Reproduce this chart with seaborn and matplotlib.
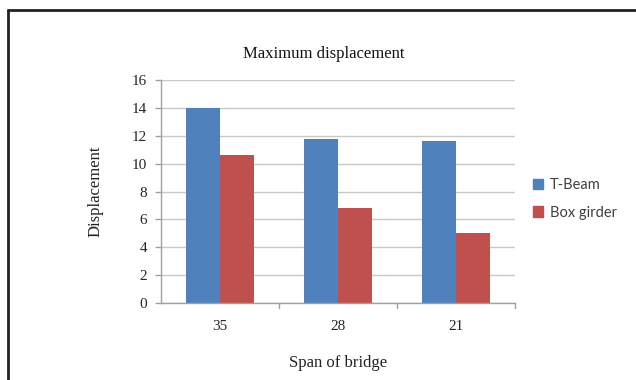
import matplotlib
matplotlib.use("Agg")
import matplotlib.pyplot as plt
import seaborn as sns
import pandas as pd
from matplotlib.lines import Line2D
from matplotlib.patches import Patch

spans = ["35", "28", "21"]
t_beam = [14.0, 11.8, 11.6]
box_girder = [10.6, 6.8, 5.0]
series_names = ["T-Beam", "Box girder"]
colors = ["#4F81BD", "#C0504D"]
y_ticks = [0, 2, 4, 6, 8, 10, 12, 14, 16]

df = pd.DataFrame({
    "span": spans * 2,
    "value": t_beam + box_girder,
    "series": [series_names[0]] * 3 + [series_names[1]] * 3,
})

sns.set_style("white")
serif = ["Liberation Serif", "DejaVu Serif"]

fig = plt.figure(figsize=(6.36, 3.80), dpi=100)
ax = fig.add_axes([0.253, 0.2026, 0.557, 0.5864])

sns.barplot(data=df, x="span", y="value", hue="series", order=spans,
            hue_order=series_names, palette=colors, width=0.57,
            saturation=1, ax=ax, legend=False, linewidth=0)

ax.set_ylim(0, 16)
ax.set_yticks(y_ticks)
ax.set_xlim(-0.5, 2.5)
ax.yaxis.grid(True, color="#C8C8C8", linewidth=1)
ax.set_axisbelow(True)
for s in ["top", "right"]:
    ax.spines[s].set_visible(False)
for s in ["left", "bottom"]:
    ax.spines[s].set_color("#A0A0A0")
    ax.spines[s].set_linewidth(1)

ax.tick_params(axis="y", length=4, color="#A0A0A0", width=1, pad=6, left=True)
ax.tick_params(axis="x", length=0, pad=12)
for x in [0.5, 1.5, 2.5]:
    ax.plot([x, x], [0, -0.35], color="#A0A0A0", lw=1, clip_on=False,
            transform=ax.transData)
ax.set_yticklabels([str(v) for v in y_ticks], fontfamily=serif, fontsize=11,
                   color="#262626")
ax.set_xticklabels(spans, fontfamily=serif, fontsize=11, color="#262626")

ax.set_xlabel("Span of bridge", fontfamily=serif, fontsize=12, labelpad=16,
              color="#222222")
ax.set_ylabel("Displacement", fontfamily=serif, fontsize=12, labelpad=20,
              color="#222222")
ax.set_title("Maximum displacement", fontfamily=serif, fontsize=12,
             pad=16, color="#111111", x=0.46)

handles = [Patch(facecolor=c, edgecolor=c) for c in colors]
leg = fig.legend(handles, series_names, loc="upper left",
                 bbox_to_anchor=(0.817, 0.565), frameon=False,
                 handlelength=0.7, handleheight=0.7, handletextpad=0.5,
                 labelspacing=0.9, prop={"family": "Lato", "size": 10.5})
for t in leg.get_texts():
    t.set_color("#404040")

# outer frame (top and left edges)
fig.add_artist(Line2D([8 / 636, 1.0], [1 - 10 / 380, 1 - 10 / 380],
                      transform=fig.transFigure, color="#222222", lw=2))
fig.add_artist(Line2D([8 / 636, 8 / 636], [0.0, 1 - 10 / 380],
                      transform=fig.transFigure, color="#222222", lw=2))

fig.savefig("out.png", dpi=100)
